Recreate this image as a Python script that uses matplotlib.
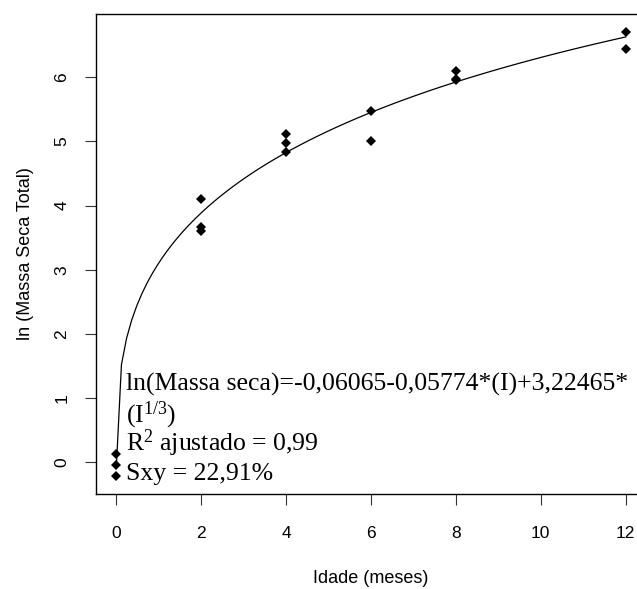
import numpy as np
import matplotlib.pyplot as plt

plt.rcParams['font.family'] = ['Liberation Sans', 'DejaVu Sans']
plt.rcParams['mathtext.fontset'] = 'custom'
plt.rcParams['mathtext.rm'] = 'Liberation Serif'

# observed points (age in months, ln of total dry mass)
idade = [0, 0, 0, 2, 2, 2, 4, 4, 4, 6, 6, 8, 8, 8, 12, 12]
ln_massa = [0.13, -0.05, -0.22, 4.10, 3.67, 3.61, 5.12, 4.97, 4.84,
            5.48, 5.01, 6.10, 5.98, 5.96, 6.71, 6.44]

# fitted model coefficients
b0 = -0.06065
b1 = -0.05774
b2 = 3.22465

xticks = [0, 2, 4, 6, 8, 10, 12]
yticks = [0, 1, 2, 3, 4, 5, 6]

fig = plt.figure(figsize=(6.37, 5.89), dpi=100)
ax = fig.add_axes([96 / 637, 95 / 589, 550 / 637, 480 / 589])

# model curve, like R's curve() with 101 points
xc = np.linspace(0, 12, 101)
yc = b0 + b1 * xc + b2 * xc ** (1 / 3)
ax.plot(xc, yc, color='black', lw=0.9)

ax.plot(idade, ln_massa, 'D', color='black', ms=5.5, mew=0)

# R style axis limits (4% extension)
xr = max(idade) - min(idade)
yr = max(ln_massa) - min(ln_massa)
ax.set_xlim(min(idade) - 0.04 * xr, max(idade) + 0.04 * xr)
ax.set_ylim(min(ln_massa) - 0.04 * yr, max(ln_massa) + 0.04 * yr)

ax.set_xticks(xticks)
ax.set_yticks(yticks)
ax.set_yticklabels([str(t) for t in yticks], rotation=90, va='center')
ax.tick_params(axis='both', length=8, width=0.8, labelsize=12.5, color='#333333')
ax.tick_params(axis='x', pad=15)
ax.tick_params(axis='y', pad=11)
for s in ax.spines.values():
    s.set_linewidth(1.0)

ax.set_xlabel('Idade (meses)', fontsize=13)
ax.set_ylabel('ln (Massa Seca Total)', fontsize=13)
ax.xaxis.set_label_coords(0.5, -0.158)
ax.yaxis.set_label_coords(-0.112, 0.5)

# equation text
linhas = [r'ln(Massa seca)=-0,06065-0,05774*(I)+3,22465*',
          r'(I$\mathregular{^{1/3}}$)',
          r'R$\mathregular{^{2}}$ ajustado = 0,99',
          r'Sxy = 22,91%']
bases = [391, 422, 451, 480]
for txt, yb in zip(linhas, bases):
    fig.text(126 / 637, 1 - yb / 589, txt, family='Liberation Serif',
             fontsize=18.5, va='baseline', ha='left')

plt.savefig('out.png')
